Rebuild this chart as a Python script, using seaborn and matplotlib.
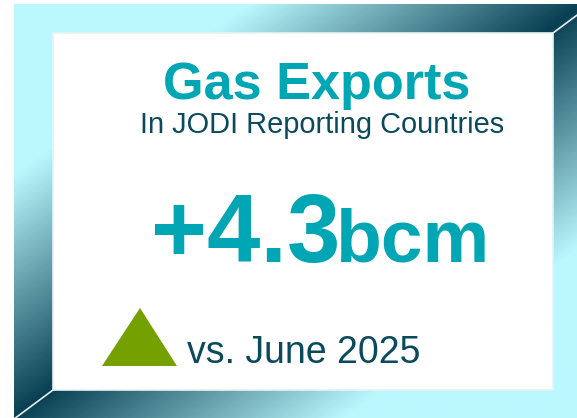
import numpy as np
import matplotlib
matplotlib.use("Agg")
import matplotlib.pyplot as plt
from matplotlib.colors import LinearSegmentedColormap
from matplotlib.patches import Rectangle, Polygon
import seaborn as sns

# card content
title = "Gas Exports"
subtitle = "In JODI Reporting Countries"
change_value = 4.3
change_unit = "bcm"
compare_period = "June 2025"
direction = "up"

# colours
cyan = "#BAF8FE"
dark_teal = "#093F52"
teal_text = "#00A6B4"
navy_text = "#0A4A5C"
arrow_green = "#74A000"

sns.set_theme(style="white")
plt.rcParams["font.family"] = ["Liberation Sans", "DejaVu Sans"]

W, H = 577, 418
fig = plt.figure(figsize=(W / 100, H / 100), dpi=100)
ax = fig.add_axes([0, 0, 1, 1])
ax.set_xlim(0, W)
ax.set_ylim(H, 0)
ax.axis("off")

# bevel frame: outer box and inner white panel (pixel coords)
ox0, oy0, ox1, oy1 = 14, 4, 592, 419
ix0, iy0, ix1, iy1 = 53, 33, 553, 390

# diagonal gradient: cyan -> dark teal -> cyan
frame_cmap = LinearSegmentedColormap.from_list(
    "frame", [(0, cyan), (0.22, cyan), (0.51, dark_teal), (0.80, cyan), (1, cyan)]
)
gx = np.linspace(ox0, ox1, 300)
gy = np.linspace(oy0, oy1, 300)
XX, YY = np.meshgrid(gx, gy)
grad = (XX / W + YY / H) / 2
img = ax.imshow(grad, cmap=frame_cmap, vmin=0, vmax=1, extent=(ox0, ox1, oy1, oy0),
                interpolation="bilinear", zorder=1, aspect="auto")
clip = Rectangle((ox0, oy0), ox1 - ox0, oy1 - oy0, transform=ax.transData)
img.set_clip_path(clip)

# bevel edges (only visible on the dark corners)
edge_kw = dict(color="white", lw=1.2, alpha=0.9, zorder=2)
ax.plot([ox1, ix1], [oy0, iy0], **edge_kw)
ax.plot([ox0, ix0], [oy1, iy1], **edge_kw)

ax.add_patch(Rectangle((ix0, iy0), ix1 - ix0, iy1 - iy0, facecolor="white",
                       edgecolor="#E4F4F6", lw=1.2, zorder=3))

# texts
ax.text(317, 99, title, ha="center", va="baseline", fontsize=37.6, fontweight="bold",
        color=teal_text, zorder=4)
ax.text(322, 133, subtitle, ha="center", va="baseline", fontsize=20.9,
        color=navy_text, zorder=4)
sign = "+" if change_value >= 0 else "-"
ax.text(151, 262, f"{sign}{abs(change_value):.1f}", ha="left", va="baseline",
        fontsize=69, fontweight="bold", color=teal_text, zorder=4)
ax.text(489, 262, change_unit, ha="right", va="baseline", fontsize=54,
        fontweight="bold", color=teal_text, zorder=4)
ax.text(187, 363, f"vs. {compare_period}", ha="left", va="baseline", fontsize=27,
        color=navy_text, zorder=4)

# direction marker
if direction == "up":
    tri = [(140, 308), (102, 366), (177, 366)]
else:
    tri = [(140, 366), (102, 308), (177, 308)]
ax.add_patch(Polygon(tri, closed=True, facecolor=arrow_green, edgecolor="none", zorder=4))

fig.savefig("out.png", dpi=100)
